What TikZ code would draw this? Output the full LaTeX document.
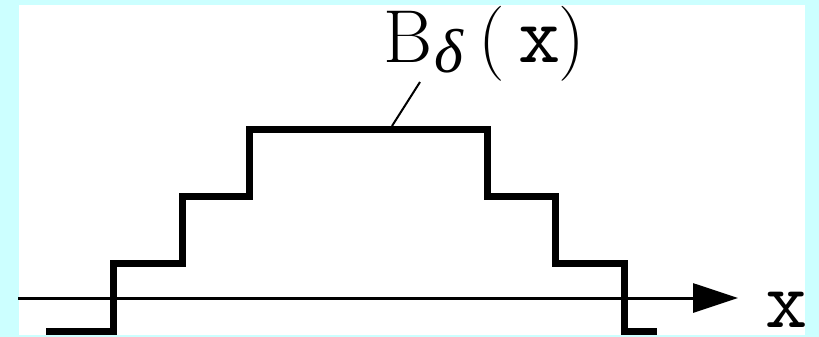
\RequirePackage{fix-cm}
\documentclass[tikz,border=0pt]{standalone}
\usepackage{fontspec}
\newfontfamily\grkfont{Liberation Serif}
\usetikzlibrary{arrows.meta}
\definecolor{bgcyan}{RGB}{204,255,255}
\newcommand{\slabx}{{\fontsize{41}{49}\selectfont\ttfamily x}}
\newcommand{\subdelta}{\lower5pt\hbox{\fontsize{31}{36}\selectfont\grkfont\itshape δ}}
\begin{document}
\begin{tikzpicture}[x=0.5pt,y=-0.5pt,
  stepline/.style={line width=3.5pt,line join=miter,line cap=butt},
  axisline/.style={line width=1.5pt,-{Triangle[length=22.5pt,width=14.5pt]}},
  leader/.style={line width=1pt},
  lbl/.style={inner sep=0pt,font=\fontsize{37.5}{45}\selectfont\rmfamily}]
\useasboundingbox (0,0) rectangle (819,337);
\fill[bgcyan] (0,0) rectangle (819,337);
\fill[white] (19,5) rectangle (805,335);
% axis
\coordinate (axL) at (18,298);
\coordinate (axR) at (738,298);
\draw[axisline] (axL) -- (axR);
% step function
\draw[stepline] (46,331) -- (113,331) -- (113,263.5) -- (182,263.5) -- (182,196)
  -- (249.5,196) -- (249.5,129) -- (487.5,129) -- (487.5,196) -- (555.5,196)
  -- (555.5,263.5) -- (624,263.5) -- (624,331) -- (657,331);
% label
\node[lbl,anchor=base west] (blabel) at (383,62.5)
  {B\kern1pt\subdelta\kern7.5pt(\kern7pt\slabx\kern-1.5pt)};
\coordinate (leadA) at (420,82);
\coordinate (leadB) at (392,126);
\draw[leader] (leadA) -- (leadB);
% axis label
\node[lbl,anchor=base west] (xlabel) at (765,327) {\slabx};
\end{tikzpicture}
\end{document}
